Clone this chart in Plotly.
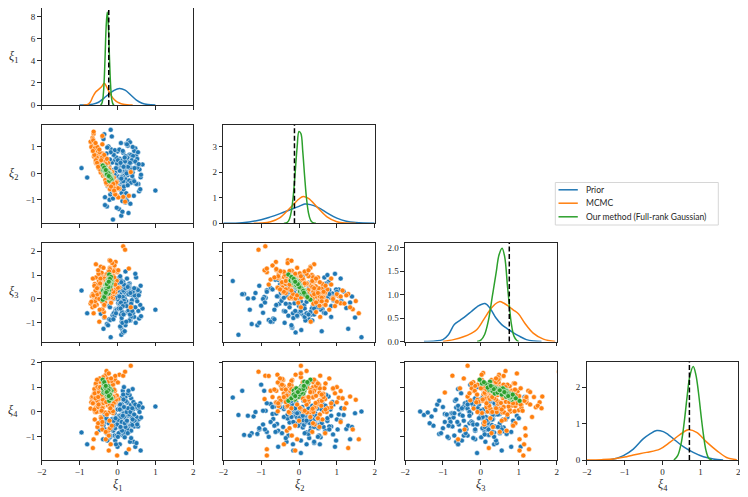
import plotly.graph_objects as go

# ---------------- samples ----------------
prior_xi1 = [0.12, -0.05, 0.31, 0.18, -0.22, 0.45, 0.02, 0.27, -0.11, 0.09,
             0.38, -0.31, 0.15, 0.21, -0.02, 0.55, 0.06, -0.17, 0.33, 0.11,
             -0.40, 0.24, 0.04, 0.49, -0.08, 0.17, 0.29, -0.26, 0.13, 0.61,
             0.00, 0.22, -0.14, 0.36, 0.08, -0.35, 0.19, 0.42, -0.04, 0.26,
             0.10, -0.47, 0.32, 0.05, 0.58, -0.19, 0.14, 0.23, -0.09, 0.40,
             0.07, -0.28, 0.35, 0.16, -0.95, 0.28, 0.03, 0.47, -0.13, 0.20,
             1.00, -0.06, 0.25, 0.11, -0.38, 0.52, 0.09, 0.30, -0.21, 0.18,
             -0.80, 0.37, 0.01, 0.44, -0.16, 0.13, 0.66, -0.03, 0.21, 0.34,
             -0.24, 0.06, 0.50, 0.15, -0.10, 0.27, 0.39, -0.33, 0.12, 0.04,
             0.57, -0.07, 0.23, 0.31, -0.18, 0.08, 0.43, -0.44, 0.19, 0.10,
             0.29, -0.12, 0.36, 0.02, 0.48, -0.27, 0.16, 0.22, -0.01, 0.62,
             0.14, -0.20, 0.33, 0.07, -0.36, 0.25, 0.41, -0.05, 0.17, 0.54,
             0.20, -0.15, 0.35, 0.05, 0.42, -0.30, 0.13, 0.26, -0.06, 0.50,
             0.09, -0.23, 0.31, 0.18, -0.10, 0.45, 0.00, 0.24, -0.37, 0.15,
             0.38, -0.02, 0.28, 0.11, -0.18, 0.60, 0.07, 0.33, -0.12, 0.21,
             -0.25, 0.40, 0.03, 0.17, 0.52, -0.08, 0.29, 0.12, -0.29, 0.36,
             0.06, 0.23, -0.15, 0.47, 0.10, -0.04, 0.34, 0.19, -0.21, 0.27,
             0.14, 0.56, -0.11, 0.01, 0.39, 0.25, -0.33, 0.16, 0.44, 0.08]
prior_xi2 = [-0.35, 0.62, 0.10, -0.88, 0.27, 0.45, -0.12, 1.05, -0.55, 0.33,
             0.02, -0.21, 0.78, -1.10, 0.18, -0.40, 0.55, 0.91, -0.02, -0.70,
             0.38, 0.14, -1.35, 0.67, -0.28, 0.24, 1.25, -0.48, 0.06, -0.15,
             0.83, -0.95, 0.41, 0.20, -0.62, 1.48, 0.09, -0.33, 0.58, -0.07,
             -1.60, 0.31, 0.72, -0.25, 0.15, -0.80, 0.47, 1.12, -0.42, 0.04,
             0.26, -1.25, 0.64, -0.10, 0.20, 0.36, -0.58, 0.95, 0.12, -0.30,
             -0.65, 0.51, 0.00, -0.75, 1.35, 0.22, -0.18, 0.69, -1.00, 0.29,
             -0.16, 0.43, -0.45, 0.85, 0.08, -1.45, 0.34, 0.60, -0.22, 0.17,
             1.02, -0.52, 0.40, -0.09, 0.75, -0.36, 0.13, -1.20, 0.49, 0.25,
             -0.68, 0.88, 0.05, -0.27, 1.65, 0.32, -0.85, 0.19, 0.57, -0.13,
             0.44, -1.75, 0.70, 0.11, -0.38, 0.98, -0.60, 0.23, 0.37, -0.05,
             -0.92, 0.53, 1.18, -0.19, 0.28, -1.05, 0.66, 0.01, -0.46, 0.80,
             0.45, -0.70, 0.15, 0.90, -0.25, 0.30, -1.05, 0.60, 0.05, -0.40,
             1.15, -0.10, 0.35, -0.85, 0.70, 0.20, -0.55, 0.00, 1.30, -0.30,
             0.50, -1.30, 0.25, -0.15, 0.80, -0.60, 0.10, 0.40, -0.95, 0.65,
             -0.20, 1.00, 0.15, -0.50, 0.55, -0.05, -1.50, 0.30, 0.75, -0.35,
             0.10, -0.75, 1.40, 0.45, -0.20, 0.20, -1.15, 0.60, 0.00, -0.45,
             0.85, 0.35, -0.65, 0.50, -0.10, 1.10, -0.90, 0.25, -0.30, 0.40]
prior_xi3 = [0.15, -0.42, 0.60, 0.05, -0.85, 0.22, -0.18, 0.40, 0.10, -0.65,
             -0.30, 0.28, 0.72, -1.10, 0.08, -0.50, 0.35, -0.05, 0.18, -0.95,
             0.48, -0.25, 0.02, 0.90, -0.70, 0.14, -0.38, 0.25, -1.30, 0.55,
             0.06, -0.58, 0.32, -0.12, 0.80, -0.78, 0.20, 0.12, -0.45, 0.44,
             -1.50, 0.09, 0.65, -0.22, 0.30, -0.88, 0.16, -0.08, 0.52, -0.60,
             0.24, -1.05, 0.38, 0.00, 0.35, -0.32, 0.11, 1.05, -0.68, 0.27,
             -0.45, 0.04, -0.55, 0.46, -0.15, 0.19, -1.20, 0.62, -0.28, 0.13,
             -0.60, 0.33, -0.02, -0.75, 0.58, 0.21, -0.40, 0.07, 1.15, -0.90,
             0.17, -0.20, 0.42, -1.40, 0.10, -0.52, 0.29, 0.03, -0.35, 0.68,
             -0.82, 0.23, -0.10, 0.50, -1.60, 0.15, 0.36, -0.62, 0.01, 0.26,
             -0.48, 0.75, -0.15, 0.12, -1.00, 0.40, -0.26, 0.20, 0.85, -0.72,
             0.08, -0.35, 0.31, -1.15, 0.18, 0.55, -0.58, 0.05, -0.08, 0.37,
             -0.20, 0.40, -0.75, 0.10, -0.35, 0.65, -1.00, 0.25, -0.50, 0.05,
             -0.15, 0.50, -0.90, 0.30, -0.60, 0.15, 0.80, -0.30, -1.25, 0.35,
             -0.05, -0.45, 0.55, -0.80, 0.20, -0.25, 0.95, -0.65, 0.00, 0.45,
             -1.10, 0.30, -0.40, 0.60, -0.10, -0.70, 0.20, -0.55, 1.00, -0.20,
             0.40, -0.95, 0.10, -0.35, 0.70, -0.60, 0.25, -1.35, 0.05, 0.50,
             -0.30, 0.15, -0.85, 0.35, -0.50, 0.85, -0.15, -0.65, 0.45, -0.40]
prior_xi4 = [-0.20, 0.35, -0.62, 0.05, -1.05, -0.30, 0.48, -0.10, -0.75, 0.18,
             -0.45, -0.02, 0.62, -0.88, -0.25, 0.12, -1.30, 0.30, -0.55, -0.08,
             0.80, -0.38, -0.15, 0.25, -0.95, 0.02, -0.68, 0.42, -0.18, -1.55,
             0.10, -0.50, -0.28, 0.55, -0.80, -0.05, 0.20, -1.20, -0.35, 0.38,
             -0.12, -0.72, 0.68, -0.42, 0.00, -1.00, -0.22, 0.15, -0.60, 0.92,
             -0.32, -0.85, 0.28, -0.15, -0.82, 0.05, -0.48, -1.40, 0.45, -0.26,
             0.22, -0.65, -0.10, 0.32, -1.10, -0.40, 0.08, -0.78, 1.10, -0.20,
             -1.30, -0.05, 0.50, -0.58, -0.30, -0.92, 0.18, -0.45, 0.60, -0.12,
             -0.70, 0.26, -1.25, -0.02, -0.36, 0.75, -0.52, -0.18, 0.14, -0.88,
             -0.28, 0.40, -1.65, -0.08, 0.02, -0.62, 0.35, -0.40, -1.02, 0.12,
             -0.15, 0.58, -0.75, -0.33, 0.20, -1.15, -0.06, 0.44, -0.50, -0.22,
             0.85, -0.95, -0.12, 0.30, -0.44, -0.70, 0.10, -0.25, 1.00, -0.58,
             -0.50, 0.20, -0.05, -0.90, 0.40, -0.30, -0.65, 0.10, -1.15, -0.20,
             0.55, -0.45, -0.10, -0.80, 0.25, -0.35, -1.40, 0.00, -0.55, 0.70,
             -0.25, -0.95, 0.15, -0.40, -0.70, 0.35, -0.15, -1.20, 0.05, -0.60,
             0.45, -0.30, -0.85, 0.20, -0.50, -0.05, 0.85, -0.75, -0.25, -1.05,
             0.10, -0.40, -0.60, 0.30, -0.20, -1.30, 0.00, -0.45, 0.60, -0.85,
             -0.15, 0.25, -0.55, -1.00, 0.15, -0.35, -0.70, 0.50, -0.10, -0.60]

mcmc_xi1 = [-0.28, -0.45, -0.13, -0.36, -0.23, -0.58, -0.18, -0.33, -0.51, -0.05,
            -0.40, -0.21, -0.63, -0.25, -0.31, -0.48, -0.11, -0.38, -0.15, -0.55,
            -0.01, -0.43, -0.27, -0.68, -0.19, -0.35, -0.08, -0.53, -0.24, -0.41,
            -0.17, -0.61, -0.30, -0.22, -0.47, 0.05, -0.37, -0.14, -0.57, -0.26,
            -0.44, -0.09, -0.34, -0.20, -0.66, -0.29, -0.12, -0.50, -0.23, -0.39,
            -0.03, -0.59, -0.32, -0.16, -0.42, -0.21, -0.71, -0.27, -0.10, -0.46,
            0.15, 0.20, -0.36, -0.18, -0.54, -0.25, -0.06, -0.49, -0.31, -0.63,
            -0.15, -0.39, 0.02, -0.45, -0.28, -0.56, -0.19, -0.34, -0.13, -0.52,
            -0.24, -0.60, -0.07, -0.37, -0.21, -0.43, -0.02, -0.48, -0.29, -0.69,
            -0.17, -0.41, -0.11, -0.35, 0.35, -0.53, -0.26, -0.20, -0.62, -0.33,
            -0.14, -0.47, -0.23, -0.57, -0.04, -0.38, -0.18, -0.44, -0.30, -0.65,
            -0.12, -0.40, -0.22, -0.51, 0.01, -0.32, -0.55, -0.25, 0.30, -0.42,
            -0.30, -0.46, -0.20, -0.38, -0.52, -0.25, -0.12, -0.60, -0.35, -0.44,
            -0.16, -0.55, -0.27, -0.40, -0.08, -0.49, -0.33, -0.21, -0.64, -0.29,
            -0.42, -0.18, -0.57, -0.36, -0.10, -0.47, -0.24, -0.31, -0.53, -0.14,
            -0.39, -0.26, -0.61, -0.20, -0.45, -0.34, -0.06, -0.50, -0.28, -0.41,
            -0.22, -0.58, -0.32, -0.15, -0.48, -0.37, -0.11, -0.54, -0.23, -0.43,
            -0.30, -0.65, -0.19, -0.35, -0.27, -0.46, -0.09, -0.40, -0.51, -0.17]
mcmc_xi2 = [0.11, 0.12, -0.26, 0.45, -0.19, 1.10, -0.53, 0.10, 0.66, -0.61,
            1.42, -0.18, 1.50, -0.32, 0.21, 0.42, -0.52, 0.44, -0.33, 0.67,
            -0.85, 0.37, 0.20, 1.05, -0.20, 0.54, -0.60, 0.54, -0.45, 0.37,
            -0.02, 0.90, 0.30, -0.36, 0.38, -0.57, 0.14, 0.05, 0.40, 0.11,
            0.03, -0.36, 0.25, -0.25, 1.35, -0.40, -0.25, 0.62, -0.23, 0.53,
            -0.52, 0.73, -0.14, -0.20, 0.52, -0.29, 1.20, -0.37, -0.16, 0.45,
            -0.89, -1.07, 0.53, -0.40, 0.65, -0.32, -0.42, 0.60, -0.05, 1.58,
            -0.33, 0.37, -0.91, 0.34, 0.22, 0.38, -0.07, 0.56, -0.54, 0.52,
            0.05, 0.62, -0.75, 0.44, -0.27, 0.37, -0.32, 0.31, 0.37, 1.00,
            -0.20, 0.41, -0.49, 0.38, 0.05, 0.59, -0.44, 0.02, 0.64, 0.21,
            -0.48, 0.69, -0.10, 0.47, -0.35, -0.09, 0.02, 0.36, -0.09, 1.30,
            -0.56, 0.31, 0.21, 0.37, -0.56, -0.10, 0.69, -0.41, -0.85, 0.54,
            0.25, 0.55, -0.05, 0.05, 0.85, 0.40, -0.45, 0.95, 0.10, 0.30,
            -0.20, 0.60, -0.10, 0.75, -0.70, 0.35, 0.45, 0.00, 1.25, 0.20,
            0.15, -0.35, 0.50, 0.65, -0.55, 0.80, -0.15, 0.35, 1.00, -0.30,
            0.25, 0.10, 0.70, -0.60, 0.45, -0.05, -0.80, 0.20, 0.55, 0.60,
            0.15, 1.15, -0.25, -0.10, 0.90, 0.30, -0.40, 0.40, 0.05, 0.50,
            -0.35, 0.85, -0.20, 0.70, 0.00, 0.15, -0.65, 1.10, 0.25, -0.50]
mcmc_xi3 = [0.22, 0.78, 0.76, -0.55, 1.18, -0.18, 1.07, 0.11, 0.18, 1.55,
            -0.43, 0.03, -0.09, 0.68, 0.09, 0.76, 0.87, 0.15, 1.03, -0.24,
            1.12, 0.95, 0.12, 0.12, 0.57, -0.28, 1.21, 0.32, 0.56, 0.60,
            -0.16, 0.05, 0.57, 0.62, 0.76, 0.48, 0.58, 0.25, 1.45, 0.29,
            0.76, 0.28, 0.37, 1.17, -0.35, 0.92, 0.03, 0.24, 0.97, -0.06,
            1.17, -0.09, 0.69, 0.08, 0.45, 1.62, -0.19, 1.01, 0.21, 0.34,
            2.20, 2.06, -0.09, 1.14, 0.07, 0.83, 0.28, 0.44, 1.02, -0.60,
            0.73, -0.04, 1.20, 1.00, 0.23, 0.30, 0.88, -0.75, 0.91, 0.45,
            0.06, 0.63, 0.81, 0.53, 0.42, 0.83, 0.76, -0.95, 0.49, -0.12,
            0.92, 0.09, 1.16, -0.20, -0.35, 0.22, 0.48, 1.07, 0.12, 0.62,
            0.39, 0.24, 1.02, 0.10, 0.40, 0.90, 0.42, 0.50, 0.02, 0.21,
            0.89, 0.11, 0.66, 0.91, 0.47, 0.56, 0.28, 0.27, 1.27, 0.10,
            0.95, 0.10, 1.30, 0.45, 0.60, 0.20, 0.70, -0.30, 0.85, 1.35,
            0.35, 0.05, 1.05, 0.40, 1.40, 0.75, -0.15, 0.55, 0.15, 0.65,
            1.10, 0.25, 0.90, 0.30, 0.95, -0.45, 0.80, 0.50, 0.20, 1.50,
            0.05, 0.40, 0.55, 1.25, 0.85, 0.15, 0.60, 1.05, 0.70, -0.10,
            1.15, 0.35, 0.60, 0.85, 0.00, 1.30, 0.30, 0.45, 0.95, 0.25,
            0.75, 0.85, 1.60, -0.25, 0.50, 0.65, 0.90, 0.10, 1.20, 0.40]
mcmc_xi4 = [0.80, 0.02, 1.04, 0.95, -0.95, 0.84, 0.29, 1.13, 0.02, 0.39,
            -0.70, 1.29, 0.49, -0.75, 1.01, 0.21, 1.16, 0.19, 0.43, 0.95,
            -1.75, 0.58, 0.51, 0.57, 1.08, 0.47, 0.38, -0.60, 0.93, 0.98,
            0.85, 0.92, -0.02, 0.78, 0.09, 1.50, 0.56, 0.13, 0.19, 0.63,
            0.78, 0.64, 1.22, -0.65, 0.62, 0.74, -0.04, 0.63, 0.84, 0.41,
            0.56, 0.00, 0.82, 0.92, 0.33, 0.62, 0.14, 0.64, 0.57, 1.22,
            1.46, 1.62, 1.10, -1.30, 0.71, 0.26, 1.29, 0.68, -1.10, -1.10,
            0.22, 1.30, 0.52, 0.07, 0.98, 0.00, 0.57, 1.46, 0.24, 0.42,
            1.57, -0.30, 0.85, 0.36, 0.00, 0.59, 0.66, 0.78, 0.99, 0.39,
            0.68, -0.50, 0.46, 1.20, 1.86, 0.25, 1.33, 0.17, 0.73, -0.02,
            1.07, 0.52, -1.55, 1.11, 0.49, 0.52, 0.95, 0.13, 1.50, -1.45,
            0.03, 0.88, 0.41, -0.45, 1.19, 0.65, -0.85, 1.06, -1.50, 0.77,
            0.40, 0.95, 0.30, 1.40, 0.20, 0.85, 1.10, 0.75, 0.55, -0.20,
            1.25, 0.45, 0.95, 0.15, 0.60, 0.80, 1.05, -0.35, 0.35, 1.65,
            0.05, 0.90, 1.15, 0.60, 0.35, 1.35, 0.70, -0.80, 1.00, 0.25,
            0.50, 1.20, 0.10, 0.85, 0.65, 0.90, 1.45, 0.30, -0.10, 0.70,
            0.45, 0.55, 1.10, -0.55, 0.95, 0.80, 0.60, 1.30, 1.55, -0.25,
            0.40, 0.35, 0.15, 1.15, 0.75, 1.00, 0.90, -0.40, 0.60, 1.35]

ours_xi1 = [-0.25, -0.32, -0.20, -0.28, -0.23, -0.35, -0.27, -0.18, -0.30, -0.22,
            -0.33, -0.26, -0.16, -0.31, -0.24, -0.37, -0.21, -0.29, -0.19, -0.34,
            -0.27, -0.23, -0.36, -0.25, -0.15, -0.32, -0.22, -0.28, -0.38, -0.20,
            -0.24, -0.31, -0.17, -0.33, -0.26, -0.21, -0.35, -0.24, -0.29, -0.18,
            -0.30, -0.23, -0.39, -0.27, -0.22,
            -0.26, -0.31, -0.21, -0.29, -0.24, -0.34, -0.19, -0.28, -0.36, -0.23,
            -0.30, -0.17, -0.33, -0.25, -0.27, -0.22, -0.32, -0.26, -0.29, -0.20,
            -0.35, -0.24, -0.28, -0.31, -0.23]
ours_xi2 = [0.03, 0.04, -0.10, 0.10, -0.13, 0.15, -0.01, -0.09, -0.05, -0.08,
            0.24, -0.06, -0.14, 0.05, 0.06, 0.12, -0.04, -0.05, -0.11, 0.14,
            -0.06, 0.03, 0.14, -0.07, -0.22, 0.14, -0.28, 0.03, 0.14, -0.03,
            -0.11, 0.10, -0.16, 0.10, 0.06, -0.13, 0.14, -0.13, 0.08, -0.14,
            0.08, -0.12, 0.30, 0.11, -0.10,
            0.00, 0.09, -0.09, 0.05, -0.04, 0.18, -0.17, 0.02, 0.20, -0.07,
            0.07, -0.20, 0.12, -0.02, 0.04, -0.12, 0.16, -0.06, 0.11, -0.14,
            0.22, 0.01, -0.03, 0.13, -0.10]
ours_xi3 = [0.41, 0.55, 0.67, 0.22, 0.77, 0.25, 0.67, 0.55, 0.58, 0.68,
            0.03, 0.71, 0.67, 0.47, 0.23, 0.40, 0.57, 0.50, 0.81, 0.28,
            0.63, 0.36, 0.36, 0.77, 0.77, 0.29, 1.02, 0.31, 0.35, 0.51,
            0.80, 0.28, 0.76, 0.23, 0.46, 0.80, 0.24, 0.70, 0.27, 0.79,
            0.36, 0.82, -0.03, 0.37, 0.72,
            0.52, 0.38, 0.70, 0.45, 0.62, 0.20, 0.88, 0.55, 0.12, 0.58,
            0.44, 0.92, 0.30, 0.60, 0.48, 0.74, 0.18, 0.66, 0.34, 0.84,
            0.08, 0.50, 0.62, 0.26, 0.72]
ours_xi4 = [0.92, 0.76, 0.83, 0.89, 0.69, 1.03, 0.61, 0.83, 0.77, 0.81,
            1.15, 0.70, 0.86, 0.80, 1.03, 0.78, 0.81, 0.90, 0.50, 0.87,
            0.86, 0.91, 0.85, 0.72, 0.54, 1.03, 0.45, 0.84, 0.94, 0.93,
            0.63, 1.00, 0.57, 0.99, 0.91, 0.61, 1.22, 0.69, 0.98, 0.58,
            0.98, 0.60, 1.30, 0.74, 0.75,
            0.85, 0.95, 0.72, 0.80, 0.90, 1.08, 0.62, 0.70, 1.15, 0.95,
            0.78, 0.55, 1.02, 0.82, 0.88, 0.66, 0.98, 0.76, 0.92, 0.70,
            1.20, 0.87, 0.80, 1.05, 0.64]

# ---------------- marginal densities ----------------
kde1_prior_x = [-1.0, -0.8, -0.65, -0.5, -0.35, -0.2, -0.1, 0.05, 0.2, 0.35, 0.5, 0.65, 0.8, 1.0]
kde1_prior_y = [0.0, 0.02, 0.08, 0.25, 0.65, 1.05, 1.30, 1.50, 1.35, 0.90, 0.45, 0.16, 0.04, 0.0]
kde1_mcmc_x = [-0.9, -0.8, -0.72, -0.65, -0.58, -0.5, -0.42, -0.35, -0.28, -0.2, -0.12, -0.04, 0.05, 0.15, 0.25, 0.4]
kde1_mcmc_y = [0.0, 0.02, 0.25, 0.75, 1.15, 1.40, 1.65, 1.96, 1.60, 1.05, 0.62, 0.35, 0.18, 0.07, 0.02, 0.0]
kde1_ours_x = [-0.45, -0.42, -0.39, -0.36, -0.33, -0.30, -0.27, -0.24, -0.21, -0.18, -0.15, -0.12, -0.09]
kde1_ours_y = [0.01, 0.09, 0.47, 1.66, 4.09, 7.02, 8.40, 7.02, 4.09, 1.66, 0.47, 0.09, 0.01]

kde2_prior_x = [-2.0, -1.5, -1.0, -0.75, -0.5, -0.25, 0.0, 0.15, 0.3, 0.5, 0.75, 1.0, 1.25, 1.5, 2.0]
kde2_prior_y = [0.0, 0.02, 0.14, 0.25, 0.38, 0.52, 0.66, 0.75, 0.73, 0.62, 0.40, 0.20, 0.08, 0.03, 0.0]
kde2_mcmc_x = [-1.2, -1.0, -0.75, -0.5, -0.25, 0.0, 0.11, 0.25, 0.5, 0.75, 1.0, 1.25, 1.5]
kde2_mcmc_y = [0.0, 0.01, 0.06, 0.22, 0.58, 0.95, 1.05, 0.97, 0.60, 0.24, 0.06, 0.01, 0.0]
kde2_ours_x = [-0.40, -0.35, -0.30, -0.25, -0.20, -0.15, -0.10, -0.05, 0.0, 0.05, 0.10, 0.15, 0.20, 0.25, 0.30, 0.35, 0.40, 0.45]
kde2_ours_y = [0.0, 0.01, 0.05, 0.18, 0.49, 1.09, 2.00, 2.97, 3.59, 3.51, 2.80, 1.81, 0.95, 0.41, 0.14, 0.04, 0.01, 0.0]

kde3_prior_x = [-1.5, -1.2, -1.0, -0.85, -0.7, -0.55, -0.4, -0.25, -0.1, 0.11, 0.25, 0.4, 0.55, 0.7, 0.85, 1.0, 1.2, 1.4, 1.6]
kde3_prior_y = [0.0, 0.01, 0.04, 0.15, 0.36, 0.45, 0.54, 0.64, 0.74, 0.81, 0.70, 0.50, 0.36, 0.27, 0.19, 0.12, 0.04, 0.01, 0.0]
kde3_mcmc_x = [-1.0, -0.72, -0.46, -0.24, -0.11, 0.07, 0.24, 0.38, 0.49, 0.6, 0.75, 0.86, 0.99, 1.16, 1.38, 1.65, 1.96]
kde3_mcmc_y = [0.0, 0.04, 0.10, 0.18, 0.25, 0.46, 0.67, 0.80, 0.85, 0.82, 0.74, 0.67, 0.59, 0.39, 0.18, 0.05, 0.0]
kde3_ours_x = [-0.1, 0.0, 0.1, 0.2, 0.3, 0.4, 0.48, 0.56, 0.63, 0.7, 0.75, 0.8, 0.87, 0.95, 1.0]
kde3_ours_y = [0.0, 0.03, 0.15, 0.45, 0.95, 1.45, 1.85, 1.99, 1.80, 1.20, 0.78, 0.40, 0.12, 0.02, 0.0]

kde4_prior_x = [-1.6, -1.38, -1.2, -1.03, -0.77, -0.51, -0.33, -0.15, 0.02, 0.15, 0.29, 0.55, 0.81, 1.08, 1.34, 1.6]
kde4_prior_y = [0.0, 0.01, 0.05, 0.12, 0.30, 0.58, 0.72, 0.81, 0.78, 0.70, 0.58, 0.37, 0.21, 0.09, 0.03, 0.0]
kde4_mcmc_x = [-2.0, -1.6, -1.3, -1.0, -0.77, -0.42, -0.07, 0.2, 0.46, 0.68, 0.9, 1.16, 1.43, 1.69, 1.96]
kde4_mcmc_y = [0.0, 0.01, 0.03, 0.08, 0.14, 0.21, 0.30, 0.49, 0.70, 0.83, 0.76, 0.50, 0.26, 0.07, 0.01]
kde4_ours_x = [0.3, 0.4, 0.5, 0.58, 0.65, 0.72, 0.81, 0.88, 0.95, 1.02, 1.08, 1.15, 1.22, 1.3]
kde4_ours_y = [0.0, 0.12, 0.50, 1.10, 1.75, 2.30, 2.57, 2.35, 1.85, 1.20, 0.70, 0.25, 0.05, 0.0]

true_values = [-0.23, -0.12, 0.75, 0.71]

names = ["Prior", "MCMC", "Our method (Full-rank Gaussian)"]
colors = ["#1f77b4", "#ff7f0e", "#2ca02c"]

samples = [
    [prior_xi1, prior_xi2, prior_xi3, prior_xi4],
    [mcmc_xi1, mcmc_xi2, mcmc_xi3, mcmc_xi4],
    [ours_xi1, ours_xi2, ours_xi3, ours_xi4],
]
kdes = [
    [(kde1_prior_x, kde1_prior_y), (kde1_mcmc_x, kde1_mcmc_y), (kde1_ours_x, kde1_ours_y)],
    [(kde2_prior_x, kde2_prior_y), (kde2_mcmc_x, kde2_mcmc_y), (kde2_ours_x, kde2_ours_y)],
    [(kde3_prior_x, kde3_prior_y), (kde3_mcmc_x, kde3_mcmc_y), (kde3_ours_x, kde3_ours_y)],
    [(kde4_prior_x, kde4_prior_y), (kde4_mcmc_x, kde4_mcmc_y), (kde4_ours_x, kde4_ours_y)],
]

# ---------------- layout geometry ----------------
# pixel positions measured on the 748x497 window; the page body adds an 8px margin
PAGE_OFF = 8
W, H = 740, 489
col_px = [(41.7, 193.3), (223.3, 374.7), (405.0, 556.7), (586.7, 738.3)]
row_px = [(8.0, 105.0), (124.8, 223.3), (243.0, 341.5), (361.5, 460.0)]
diag_top = [8.76, 3.85, 2.10, 2.71]
diag_dtick = [2, 1, 0.5, 1]
var_range = [None, [-1.89, 1.84], [-1.78, 2.34], [-1.93, 2.03]]

ink = "#262626"
tick_font = dict(family="Liberation Serif", size=9, color=ink)
title_font = dict(family="Liberation Serif", size=12, color=ink)


def px_x(p):
    return min(max((p - PAGE_OFF) / W, 0), 1)


def px_y(p):
    return min(max(1 - (p - PAGE_OFF) / H, 0), 1)


def var_label(i):
    return "<i>ξ</i><sub>%d</sub>" % (i + 1)


def base_axis():
    return dict(showline=True, mirror=True, linecolor=ink, linewidth=1.1,
                ticks="outside", ticklen=3.5, tickwidth=1, tickcolor=ink,
                showgrid=False, zeroline=False, tickfont=tick_font,
                automargin=False)


fig = go.Figure()
layout = {}
annotations = []
k = 0
for r in range(4):
    for c in range(r + 1):
        k += 1
        xa = "x" if k == 1 else "x%d" % k
        ya = "y" if k == 1 else "y%d" % k
        xkey = "xaxis" if k == 1 else "xaxis%d" % k
        ykey = "yaxis" if k == 1 else "yaxis%d" % k

        x_ax = base_axis()
        x_ax.update(domain=[px_x(col_px[c][0]), px_x(col_px[c][1])], anchor=ya,
                    range=[-2, 2], tickmode="linear", tick0=-2, dtick=1,
                    showticklabels=(r == 3))

        y_ax = base_axis()
        y_ax.update(domain=[px_y(row_px[r][1]), px_y(row_px[r][0])], anchor=xa)
        if r == c:
            y_ax.update(range=[0, diag_top[r]], tickmode="linear", tick0=0,
                        dtick=diag_dtick[r], showticklabels=True)
            if r == 2:
                y_ax["tickformat"] = ".1f"
            for m in range(3):
                kx, ky = kdes[r][m]
                fig.add_trace(go.Scatter(
                    x=kx, y=ky, mode="lines",
                    line=dict(color=colors[m], width=1.5, shape="spline"),
                    name=names[m], showlegend=False,
                    xaxis=xa, yaxis=ya, hoverinfo="skip"))
            fig.add_shape(type="line", xref=xa, yref=ya + " domain",
                          x0=true_values[r], x1=true_values[r], y0=0, y1=1,
                          line=dict(color="black", width=1.5, dash="5px,2.5px"))
        else:
            y_ax.update(range=var_range[r], tickmode="linear", tick0=-1, dtick=1,
                        showticklabels=(c == 0))
            for m in range(3):
                fig.add_trace(go.Scatter(
                    x=samples[m][c], y=samples[m][r], mode="markers",
                    marker=dict(size=5, color=colors[m], line=dict(width=0.5, color="white")),
                    name=names[m], showlegend=False,
                    xaxis=xa, yaxis=ya, hoverinfo="skip"))

        layout[xkey] = x_ax
        layout[ykey] = y_ax

# axis titles
for i in range(4):
    annotations.append(dict(text=var_label(i), xref="paper", yref="paper",
                            x=px_x(13), y=px_y((row_px[i][0] + row_px[i][1]) / 2),
                            xanchor="center", yanchor="middle", showarrow=False,
                            font=title_font))
    annotations.append(dict(text=var_label(i), xref="paper", yref="paper",
                            x=px_x((col_px[i][0] + col_px[i][1]) / 2), y=px_y(485),
                            xanchor="center", yanchor="middle", showarrow=False,
                            font=title_font))

# legend box (drawn by hand to match the compact matplotlib legend)
leg_left, leg_right, leg_top, leg_bottom = 555.3, 718.3, 182.5, 225.0
leg_rows = [189.8, 203.2, 216.8]
fig.add_shape(type="rect", xref="paper", yref="paper",
              x0=px_x(leg_left), x1=px_x(leg_right), y0=px_y(leg_bottom), y1=px_y(leg_top),
              line=dict(color="#d6d6d6", width=1), fillcolor="rgba(255,255,255,0.8)")
for m in range(3):
    fig.add_shape(type="line", xref="paper", yref="paper",
                  x0=px_x(558.5), x1=px_x(577.8), y0=px_y(leg_rows[m]), y1=px_y(leg_rows[m]),
                  line=dict(color=colors[m], width=1.5))
    annotations.append(dict(text=names[m], xref="paper", yref="paper",
                            x=px_x(584.0), y=px_y(leg_rows[m]), xanchor="left", yanchor="middle",
                            showarrow=False, font=dict(family="Lato", size=8.5, color=ink)))

fig.update_layout(**layout)
fig.update_layout(
    width=W, height=H, autosize=False,
    margin=dict(l=0, r=0, t=0, b=0),
    paper_bgcolor="white", plot_bgcolor="white",
    showlegend=False,
    annotations=annotations,
)

fig.write_html("out.html")
